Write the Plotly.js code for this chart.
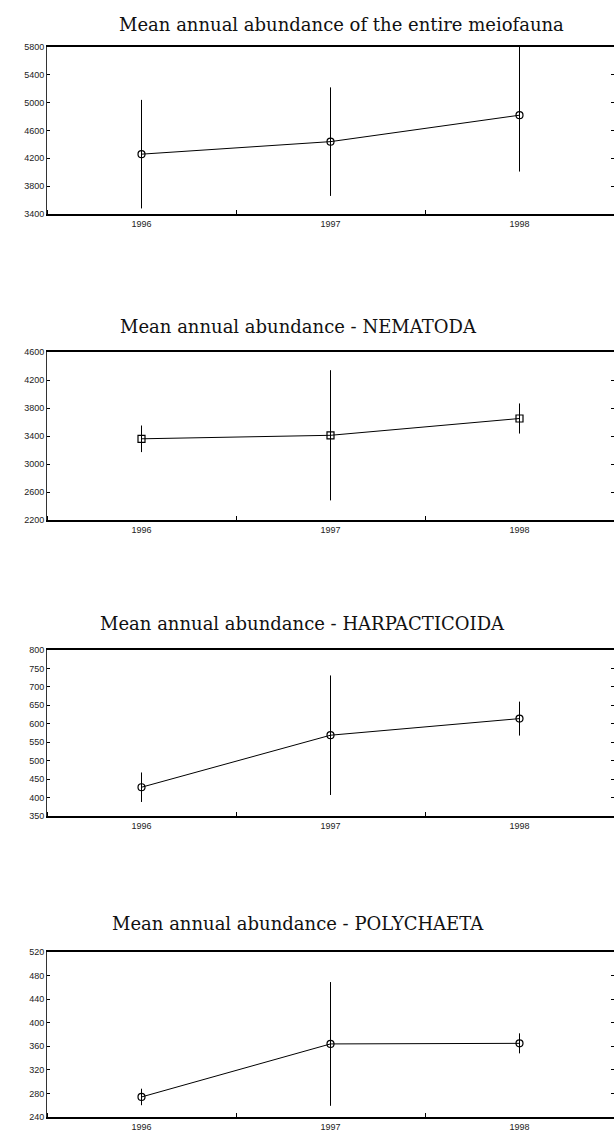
<!DOCTYPE html>
<html>
<head>
<meta charset="utf-8">
<script src="https://cdn.plot.ly/plotly-3.0.1.min.js"></script>
<style>html,body{margin:0;padding:0;background:#fff;}#chart{width:614px;height:1134px;}</style>
</head>
<body>
<div id="chart"></div>
<script>
// ---- data ----
var years = [1996, 1997, 1998];
var yearLabels = ['1996', '1997', '1998'];

var titles = [
  'Mean annual abundance of the entire meiofauna',
  'Mean annual abundance - NEMATODA',
  'Mean annual abundance - HARPACTICOIDA',
  'Mean annual abundance - POLYCHAETA'
];

var meioMean = [4260, 4440, 4820];
var meioErrPlus = [780, 780, 980];
var meioErrMinus = [780, 780, 810];

var nemaMean = [3360, 3410, 3650];
var nemaErrPlus = [190, 930, 215];
var nemaErrMinus = [190, 930, 215];

var harpMean = [428, 569, 614];
var harpErrPlus = [40, 162, 46];
var harpErrMinus = [40, 162, 46];

var polyMean = [274, 364, 365];
var polyErrPlus = [14, 105, 17];
var polyErrMinus = [14, 105, 17];

var yRanges = [[3400, 5800], [2200, 4600], [350, 800], [240, 520]];
var yDticks = [400, 400, 50, 40];

// ---- layout helpers ----
var H = 1134;
var boxes = [[47, 214], [352, 520], [650, 816], [952, 1117]]; // top,bottom px
var titleY = [24, 326, 623, 923];            // title centre, px from top
var titleX = [0.519, 0.443, 0.451, 0.443];   // title centre, paper fraction
var symbols = ['circle-open', 'square-open', 'circle-open', 'circle-open'];
var means = [meioMean, nemaMean, harpMean, polyMean];
var eplus = [meioErrPlus, nemaErrPlus, harpErrPlus, polyErrPlus];
var eminus = [meioErrMinus, nemaErrMinus, harpErrMinus, polyErrMinus];

var data = [];
var layout = {
  width: 614, height: 1134,
  margin: {l: 47, r: 0, t: 0, b: 0},
  paper_bgcolor: '#fff', plot_bgcolor: '#fff',
  showlegend: false,
  annotations: []
};

(function () {
  for (var i = 0; i < 4; i++) {
    var sfx = i === 0 ? '' : String(i + 1);
    data.push({
      x: years, y: means[i],
      xaxis: 'x' + sfx, yaxis: 'y' + sfx,
      type: 'scatter', mode: 'lines+markers',
      line: {color: '#000', width: 1},
      marker: {symbol: symbols[i], size: 7, color: '#000', line: {width: 1.2, color: '#000'}},
      error_y: {type: 'data', symmetric: false, array: eplus[i], arrayminus: eminus[i],
                color: '#000', thickness: 1, width: 0},
      cliponaxis: false
    });
    var pTop = boxes[i][0], pBot = boxes[i][1];
    var dom = [1 - pBot / H, 1 - pTop / H];
    layout['xaxis' + sfx] = {
      domain: [0, 1], anchor: 'y' + sfx,
      range: [1995.5, 1998.5],
      tickmode: 'array', tickvals: years, ticktext: yearLabels,
      ticks: '', showgrid: false, zeroline: false,
      showline: true, mirror: true, linecolor: '#000', linewidth: 2,
      tickfont: {family: 'Liberation Sans, Arial, sans-serif', size: 9, color: '#222'},
      minor: {tick0: 1996.5, dtick: 1, ticks: 'inside', ticklen: 4, tickcolor: '#000', showgrid: false}
    };
    layout['yaxis' + sfx] = {
      domain: dom, anchor: 'x' + sfx,
      range: yRanges[i], tickmode: 'linear', tick0: yRanges[i][0], dtick: yDticks[i],
      ticks: 'inside', ticklen: 3, tickcolor: '#000',
      showgrid: false, zeroline: false,
      showline: true, mirror: 'ticks', linecolor: '#333', linewidth: 1,
      tickfont: {family: 'Liberation Sans, Arial, sans-serif', size: 9, color: '#222'}
    };
    layout.annotations.push({
      text: titles[i], xref: 'paper', yref: 'paper',
      x: titleX[i], y: 1 - titleY[i] / H, xanchor: 'center', yanchor: 'middle',
      showarrow: false,
      font: {family: 'DejaVu Serif, Liberation Serif, serif', size: 18, color: '#111'}
    });
  }
})();

Plotly.newPlot('chart', data, layout, {displayModeBar: false, staticPlot: true});
</script>
</body>
</html>
